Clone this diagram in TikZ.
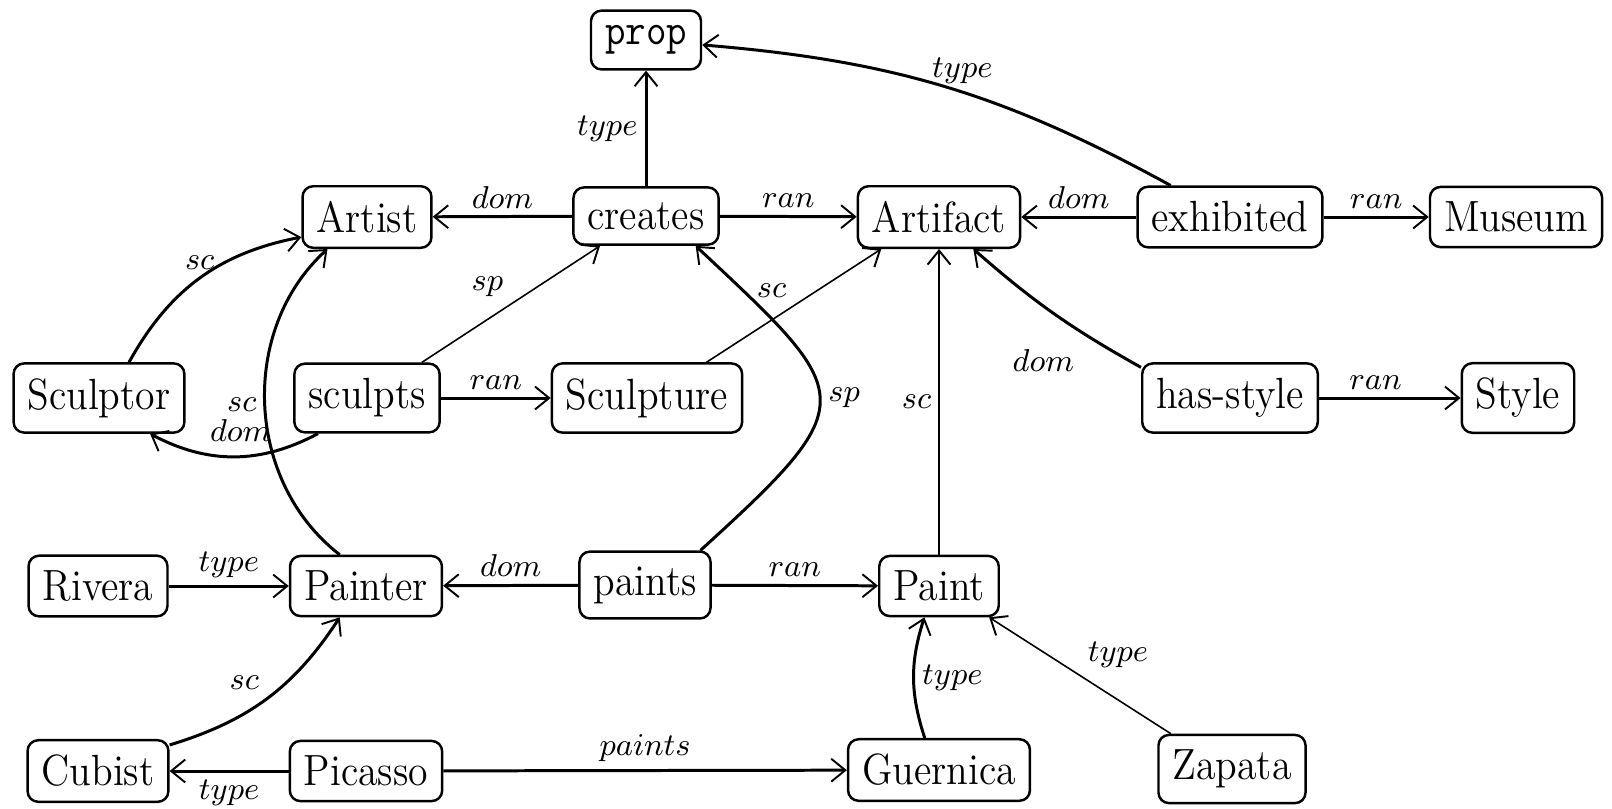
\documentclass[tikz,border=0pt]{standalone}
\usepackage{graphicx}
\usetikzlibrary{arrows.meta}
\newcommand{\nt}[1]{\scalebox{1}[1.1]{#1}}
\tikzset{
  box/.style={draw, rounded corners=3pt, line width=0.7pt, inner xsep=4pt, inner ysep=4.25pt, font=\fontsize{11.3}{13}\selectfont},
  lab/.style={font=\fontsize{9}{10}\selectfont, inner sep=2pt},
  edge/.style={line width=0.85pt, -{Straight Barb[length=4pt,width=6.5pt,line width=0.55pt]}},
  thin edge/.style={edge, line width=0.45pt},
}
\begin{document}
\begin{tikzpicture}[x=0.01cm,y=0.01cm]
\useasboundingbox (0,0) rectangle (1612,-808);
\node[box] (prop) at (646,-40) {\nt{\ttfamily prop}};
\node[box] (Artist) at (367,-217) {\nt{Artist}};
\node[box] (creates) at (646,-216) {\nt{creates}};
\node[box] (Artifact) at (939,-217) {\nt{Artifact}};
\node[box] (exhibited) at (1230,-217) {\nt{exhibited}};
\node[box] (Museum) at (1516,-217) {\nt{Museum}};
\node[box] (Sculptor) at (99,-398) {\nt{Sculptor}};
\node[box] (sculpts) at (367,-398) {\nt{sculpts}};
\node[box] (Sculpture) at (647,-398) {\nt{Sculpture}};
\node[box] (hasstyle) at (1230,-398) {\nt{has-style}};
\node[box] (Style) at (1518,-398) {\nt{Style}};
\node[box] (Rivera) at (98,-586) {\nt{Rivera}};
\node[box] (Painter) at (366,-586) {\nt{Painter}};
\node[box] (paints) at (645,-585) {\nt{paints}};
\node[box] (Paint) at (939,-586) {\nt{Paint}};
\node[box] (Cubist) at (98,-771) {\nt{Cubist}};
\node[box] (Picasso) at (366,-771) {\nt{Picasso}};
\node[box] (Guernica) at (939,-770) {\nt{Guernica}};
\node[box] (Zapata) at (1232,-769) {\nt{Zapata}};

\draw[edge] (creates.north) -- node[lab,left,pos=0.5]{$type$} (prop.south);
\draw[edge] (exhibited.152) to[bend right=12] node[lab,above,pos=0.46]{$type$} (prop.-5);
\draw[edge] (creates) -- node[lab,above]{$dom$} (Artist);
\draw[edge] (creates) -- node[lab,above]{$ran$} (Artifact);
\draw[edge] (exhibited) -- node[lab,above]{$dom$} (Artifact);
\draw[edge] (exhibited) -- node[lab,above]{$ran$} (Museum);
\draw[edge] (Sculptor.50) to[bend left=25] node[lab,above]{$sc$} (Artist.197);
\draw[edge] (sculpts.216) to[bend left=28] node[lab,above,pos=0.46,yshift=2pt]{$dom$} (Sculptor.-35);
\draw[edge] (Painter.130) to[bend left=50] node[lab,left,pos=0.5]{$sc$} (Artist.219);
\draw[thin edge] (sculpts.33) -- node[lab,above left]{$sp$} (creates.213);
\draw[edge] (sculpts) -- node[lab,above]{$ran$} (Sculpture);
\draw[thin edge] (Sculpture.31) -- node[lab,above left]{$sc$} (Artifact.209);
\draw[edge] (paints.32) .. controls +(165,150) and +(160,-150) .. node[lab,right]{$sp$} (creates.-31);
\draw[edge] (paints) -- node[lab,above]{$dom$} (Painter);
\draw[edge] (paints) -- node[lab,above]{$ran$} (Paint);
\draw[thin edge] (Paint.north) -- node[lab,left]{$sc$} (Artifact.south);
\draw[edge] (hasstyle.161) to[bend left=6] node[lab,pos=0.2,xshift=-16.8pt,yshift=-4.3pt]{$dom$} (Artifact.-43);
\draw[edge] (hasstyle) -- node[lab,above,pos=0.4]{$ran$} (Style);
\draw[edge] (Rivera) -- node[lab,above]{$type$} (Painter);
\draw[edge] (Cubist.20) to[bend right=20] node[lab,above left]{$sc$} (Painter.230);
\draw[edge] (Picasso) -- node[lab,below]{$type$} (Cubist);
\draw[edge] (Picasso) -- node[lab,above]{$paints$} (Guernica);
\draw[edge] (Guernica.114) to[bend left=18] node[lab,right]{$type$} (Paint.245);
\draw[thin edge] (Zapata.150) -- node[lab,above right]{$type$} (Paint.-32);
\end{tikzpicture}
\end{document}
